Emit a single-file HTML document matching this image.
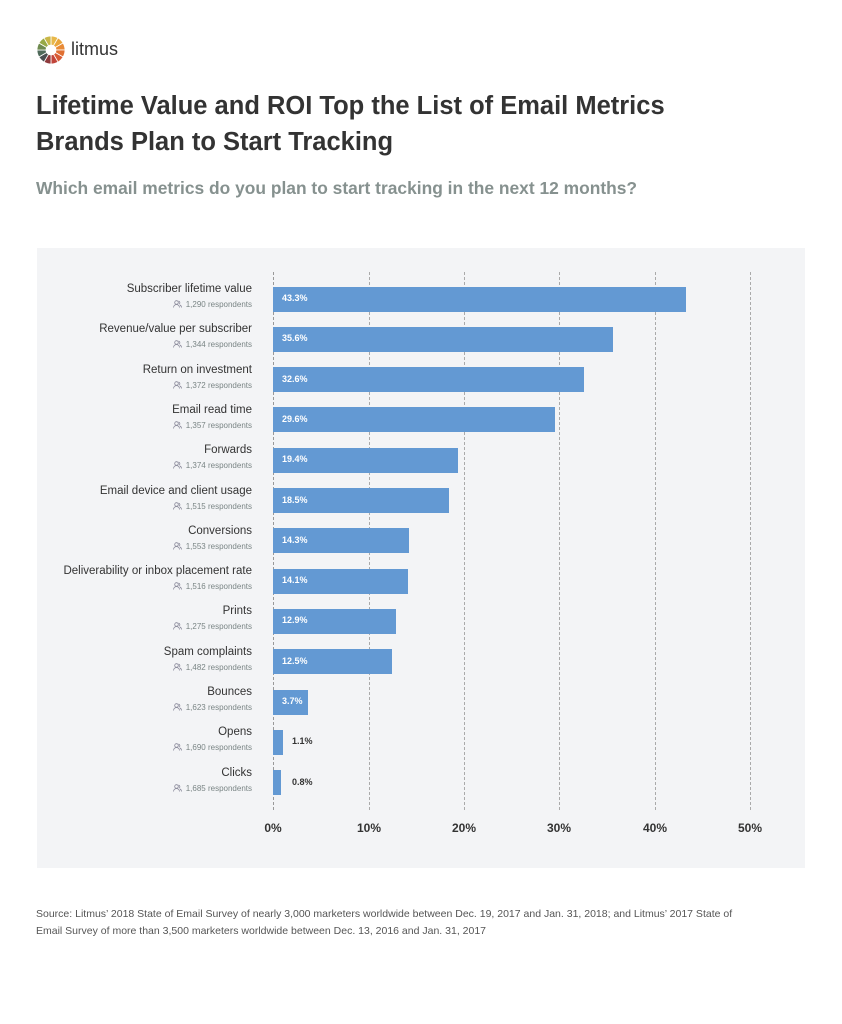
<!DOCTYPE html>
<html><head><meta charset="utf-8"><style>
body{margin:0;width:842px;height:1024px;background:#fff;font-family:"Liberation Sans",sans-serif;position:relative;overflow:hidden}
.a{position:absolute;white-space:nowrap}
.lab{right:590px;font-size:11.5px;color:#333;text-align:right}
.resp{right:590px;font-size:8px;color:#7a8585;text-align:right}
.bar{left:273px;height:25px;background:#6399d3}
.v{font-size:9px;color:#fff;font-weight:bold}
.grid{top:272px;height:538px;border-left:1px dashed #aaa;width:0}
.tick{top:821px;font-size:12px;color:#333;font-weight:bold;width:60px;text-align:center}
</style></head><body>
<svg class="a" style="left:36px;top:35px" width="30" height="30" viewBox="-15 -15 30 30">
<g stroke="#fff" stroke-width="0.8">
<path d="M0,-14A14,14 0 0 1 7,-12.1L2.5,-4.3A5,5 0 0 0 0,-5Z" fill="#e8b84a"/>
<path d="M7,-12.1A14,14 0 0 1 12.1,-7L4.3,-2.5A5,5 0 0 0 2.5,-4.3Z" fill="#e9a53c"/>
<path d="M12.1,-7A14,14 0 0 1 14,0L5,0A5,5 0 0 0 4.3,-2.5Z" fill="#e88a36"/>
<path d="M14,0A14,14 0 0 1 12.1,7L4.3,2.5A5,5 0 0 0 5,0Z" fill="#e07033"/>
<path d="M12.1,7A14,14 0 0 1 7,12.1L2.5,4.3A5,5 0 0 0 4.3,2.5Z" fill="#d85a35"/>
<path d="M7,12.1A14,14 0 0 1 0,14L0,5A5,5 0 0 0 2.5,4.3Z" fill="#c1443a"/>
<path d="M0,14A14,14 0 0 1 -7,12.1L-2.5,4.3A5,5 0 0 0 0,5Z" fill="#8e3a3c"/>
<path d="M-7,12.1A14,14 0 0 1 -12.1,7L-4.3,2.5A5,5 0 0 0 -2.5,4.3Z" fill="#4a4f52"/>
<path d="M-12.1,7A14,14 0 0 1 -14,0L-5,0A5,5 0 0 0 -4.3,2.5Z" fill="#4f6a5a"/>
<path d="M-14,0A14,14 0 0 1 -12.1,-7L-4.3,-2.5A5,5 0 0 0 -5,0Z" fill="#6f8b4f"/>
<path d="M-12.1,-7A14,14 0 0 1 -7,-12.1L-2.5,-4.3A5,5 0 0 0 -4.3,-2.5Z" fill="#97a946"/>
<path d="M-7,-12.1A14,14 0 0 1 0,-14L0,-5A5,5 0 0 0 -2.5,-4.3Z" fill="#c9b748"/>
</g></svg>
<div class="a" style="left:71px;top:39px;font-size:18px;color:#333">litmus</div>
<div class="a" style="left:36px;top:88px;font-size:25.5px;font-weight:bold;color:#333;line-height:36px">Lifetime Value and ROI Top the List of Email Metrics<br>Brands Plan to Start Tracking</div>
<div class="a" style="left:36px;top:178px;font-size:17.4px;font-weight:bold;color:#86918f">Which email metrics do you plan to start tracking in the next 12 months?</div>
<div class="a" style="left:37px;top:248px;width:768px;height:620px;background:#f3f4f6"></div>
<div class="a grid" style="left:273px;border-left:1px dashed #999"></div>
<div class="a grid" style="left:369px"></div>
<div class="a grid" style="left:464px"></div>
<div class="a grid" style="left:559px"></div>
<div class="a grid" style="left:655px"></div>
<div class="a grid" style="left:750px"></div>
<div id="rows"></div>
<div class="a tick" style="left:243px">0%</div>
<div class="a tick" style="left:339px">10%</div>
<div class="a tick" style="left:434px">20%</div>
<div class="a tick" style="left:529px">30%</div>
<div class="a tick" style="left:625px">40%</div>
<div class="a tick" style="left:720px">50%</div>
<div class="a" style="left:36px;top:906px;font-size:10.5px;color:#555;line-height:17px">Source: Litmus’ 2018 State of Email Survey of nearly 3,000 marketers worldwide between Dec. 19, 2017 and Jan. 31, 2018; and Litmus’ 2017 State of<br>Email Survey of more than 3,500 marketers worldwide between Dec. 13, 2016 and Jan. 31, 2017</div>
<script>
var d=[["Subscriber lifetime value","1,290",43.3],["Revenue/value per subscriber","1,344",35.6],["Return on investment","1,372",32.6],["Email read time","1,357",29.6],["Forwards","1,374",19.4],["Email device and client usage","1,515",18.5],["Conversions","1,553",14.3],["Deliverability or inbox placement rate","1,516",14.1],["Prints","1,275",12.9],["Spam complaints","1,482",12.5],["Bounces","1,623",3.7],["Opens","1,690",1.1],["Clicks","1,685",0.8]];
var h="";
d.forEach(function(r,i){var c=299+i*40.3;var w=r[2]*9.54;
h+='<div class="a lab" style="top:'+(c-16)+'px">'+r[0]+'</div>';
h+='<div class="a resp" style="top:'+(c+1)+'px"><svg width="9" height="8" viewBox="0 0 9 8" style="margin-right:4px;vertical-align:-1px"><circle cx="3.5" cy="2.5" r="1.8" fill="none" stroke="#889" stroke-width=".8"/><path d="M0.5,7.5A3,3 0 0 1 6.5,7.5M5.5,1A1.8,1.8 0 0 1 6,4.3M7,5A3,3 0 0 1 8.5,7.5" fill="none" stroke="#889" stroke-width=".8"/></svg>'+r[1]+' respondents</div>';
h+='<div class="a bar" style="top:'+(c-12.5)+'px;width:'+w+'px"></div>';
var out=r[2]<2;
h+='<div class="a v" style="top:'+(c-6)+'px;left:'+(out?292:282)+'px;'+(out?'color:#333':'')+'">'+r[2]+'%</div>';});
document.getElementById("rows").innerHTML=h;
</script>
</body></html>
